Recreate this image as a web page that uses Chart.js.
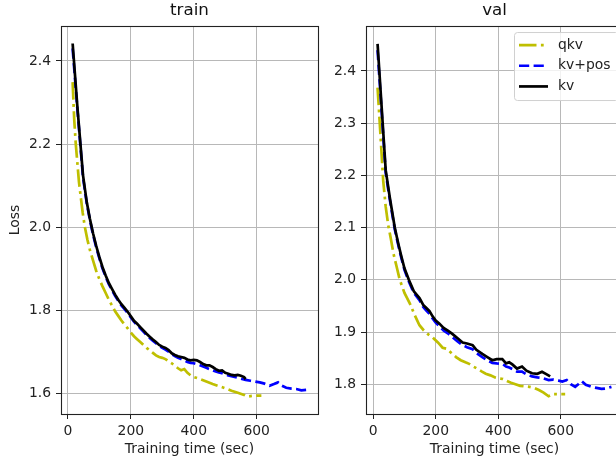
<!DOCTYPE html>
<html><head><meta charset="utf-8">
<script src="https://cdn.jsdelivr.net/npm/chart.js@4"></script>
<style>
html,body{margin:0;padding:0;background:#fff;width:616px;height:459px;overflow:hidden;position:relative}
.box{position:absolute;top:0;width:330px;height:459px}
#l{left:0}#r{left:305px}
</style></head><body>
<div class="box" id="l"><canvas id="c1"></canvas></div>
<div class="box" id="r"><canvas id="c2"></canvas></div>
<script>
const seriesLabels = ['qkv', 'kv+pos', 'kv'];
const panelTitles = ['train', 'val'];
const xTicks = [0, 200, 400, 600];
const trainYTicks = [1.6, 1.8, 2.0, 2.2, 2.4];
const valYTicks = [1.8, 1.9, 2.0, 2.1, 2.2, 2.3, 2.4];

const trainQkvTime = [15,20,25,30,35,40,47,54,62,70,80,90,100,110,120,130,140,150,160,170,180,190,200,210,220,230,240,250,260,270,280,290,300,310,320,330,340,350,360,370,380,390,400,420,440,460,480,500,520,540,560,570,590,615];
const trainQkvLoss = [2.349,2.26,2.20,2.155,2.11,2.078,2.035,2.0,1.97,1.945,1.92,1.895,1.875,1.858,1.842,1.826,1.812,1.798,1.787,1.776,1.766,1.757,1.747,1.738,1.731,1.724,1.717,1.710,1.704,1.698,1.692,1.688,1.686,1.683,1.678,1.673,1.667,1.661,1.656,1.659,1.650,1.644,1.640,1.635,1.629,1.623,1.618,1.613,1.607,1.602,1.597,1.593,1.595,1.595];

const trainKvPosTime = [15,30,48,60,70,80,90,100,110,120,130,140,150,160,170,180,190,200,210,220,230,240,250,260,270,280,290,300,310,320,330,340,350,360,370,380,390,400,410,420,430,440,450,460,470,480,490,500,510,520,530,540,550,565,580,595,610,625,641,655,668,680,694,710,726,742,758];
const trainKvPosLoss = [2.43,2.285,2.12,2.057,2.017,1.982,1.952,1.925,1.901,1.881,1.863,1.849,1.835,1.823,1.812,1.803,1.794,1.783,1.773,1.765,1.757,1.749,1.741,1.734,1.727,1.721,1.715,1.710,1.706,1.701,1.695,1.690,1.686,1.683,1.680,1.676,1.674,1.673,1.671,1.668,1.665,1.662,1.659,1.656,1.653,1.651,1.649,1.646,1.644,1.642,1.640,1.638,1.636,1.633,1.631,1.629,1.627,1.624,1.619,1.623,1.627,1.619,1.614,1.612,1.611,1.608,1.609];

const trainKvTime = [15,30,48,60,70,80,90,100,110,120,130,140,150,160,170,180,190,200,210,220,230,240,250,260,270,280,290,300,310,320,330,340,350,360,370,380,390,400,410,420,430,440,450,460,470,480,490,500,510,520,530,540,550,560,565];
const trainKvLoss = [2.442,2.29,2.125,2.06,2.02,1.985,1.955,1.928,1.904,1.884,1.866,1.852,1.838,1.826,1.815,1.806,1.797,1.786,1.775,1.768,1.760,1.752,1.744,1.737,1.730,1.724,1.717,1.713,1.710,1.705,1.697,1.693,1.690,1.688,1.686,1.682,1.680,1.681,1.680,1.676,1.671,1.668,1.668,1.664,1.659,1.655,1.656,1.650,1.648,1.645,1.644,1.645,1.643,1.640,1.635];

const valQkvTime = [14,18,22,27,32,40,48,56,65,75,85,100,117,133,148,162,177,191,207,222,235,250,265,280,295,307,320,335,348,360,375,390,402,415,428,441,455,470,485,500,515,530,545,561,575,590,614];
const valQkvLoss = [2.368,2.33,2.29,2.24,2.19,2.14,2.105,2.08,2.05,2.025,2.0,1.975,1.955,1.932,1.913,1.903,1.895,1.889,1.880,1.870,1.868,1.860,1.852,1.846,1.842,1.839,1.834,1.829,1.824,1.820,1.817,1.813,1.811,1.810,1.806,1.803,1.800,1.797,1.796,1.795,1.793,1.789,1.784,1.777,1.781,1.781,1.781];

const valKvPosTime = [14,40,53,69,80,90,100,114,130,148,160,170,180,190,200,212,225,240,254,270,286,300,318,330,349,365,381,395,413,425,435,445,460,476,490,508,525,540,561,575,593,605,619,632,646,656,667,680,698,714,730,745,762];
const valKvPosLoss = [2.44,2.205,2.154,2.097,2.067,2.042,2.019,1.997,1.975,1.961,1.948,1.941,1.935,1.926,1.918,1.911,1.903,1.897,1.890,1.882,1.875,1.871,1.867,1.860,1.852,1.846,1.841,1.840,1.839,1.834,1.832,1.829,1.824,1.824,1.819,1.815,1.813,1.812,1.808,1.809,1.807,1.805,1.808,1.800,1.795,1.800,1.806,1.799,1.795,1.793,1.791,1.792,1.795];

const valKvTime = [14,40,53,69,80,90,100,114,130,148,160,170,180,190,200,212,225,240,254,270,286,300,318,330,349,365,381,395,413,425,435,445,460,476,490,508,525,540,555,566];
const valKvLoss = [2.452,2.21,2.158,2.10,2.07,2.045,2.022,2.0,1.978,1.965,1.952,1.946,1.940,1.930,1.922,1.916,1.908,1.902,1.896,1.888,1.880,1.878,1.875,1.866,1.858,1.852,1.846,1.848,1.848,1.840,1.842,1.838,1.830,1.834,1.826,1.821,1.820,1.824,1.819,1.815];

Chart.defaults.font.family = "'DejaVu Sans', sans-serif";
Chart.defaults.font.size = 13.9;
Chart.defaults.color = '#222';

const pts = (xs, ys) => xs.map((x, i) => ({x: x, y: ys[i]}));

function makeDatasets(q, qy, p, py, k, ky) {
  return [
    {label: seriesLabels[0], data: pts(q, qy), borderColor: '#bfbf00', borderWidth: 2.7, borderDash: [17.5, 4.4, 2.8, 4.4], order: 2},
    {label: seriesLabels[1], data: pts(p, py), borderColor: '#0000ff', borderWidth: 2.7, borderDash: [10.2, 4.4], order: 1},
    {label: seriesLabels[2], data: pts(k, ky), borderColor: '#000000', borderWidth: 2.7, borderDash: [], order: 0}
  ];
}

const framePlugin = {
  id: 'frame',
  afterDatasetsDraw(chart) {
    const {ctx, chartArea: a} = chart;
    ctx.save();
    ctx.strokeStyle = '#222';
    ctx.lineWidth = 1.1;
    ctx.setLineDash([]);
    ctx.strokeRect(Math.round(a.left) + 0.5, Math.round(a.top) + 0.5, Math.round(a.right - a.left), Math.round(a.bottom - a.top));
    ctx.restore();
  }
};

const insideLegend = {
  id: 'insideLegend',
  afterDraw(chart) {
    const {ctx, chartArea: a} = chart;
    const right = a.right - 5, left = right - 104, top = a.top + 6, h = 68;
    ctx.save();
    ctx.beginPath();
    ctx.roundRect(left + 0.5, top + 0.5, right - left, h, 3);
    ctx.fillStyle = 'rgba(255,255,255,0.8)';
    ctx.fill();
    ctx.strokeStyle = '#d0d0d0';
    ctx.lineWidth = 1;
    ctx.stroke();
    chart.data.datasets.forEach((ds, i) => {
      const y = top + 13 + i * 20.7;
      ctx.beginPath();
      ctx.setLineDash(ds.borderDash || []);
      ctx.strokeStyle = ds.borderColor;
      ctx.lineWidth = ds.borderWidth;
      ctx.moveTo(left + 5, y);
      ctx.lineTo(left + 34, y);
      ctx.stroke();
      ctx.setLineDash([]);
      ctx.fillStyle = '#222';
      ctx.font = "13.9px 'DejaVu Sans'";
      ctx.textBaseline = 'middle';
      ctx.textAlign = 'left';
      ctx.fillText(ds.label, left + 44, y);
    });
    ctx.restore();
  }
};

function makeChart(canvas, title, datasets, xmin, xmax, ymin, ymax, yTicks, showYTitle, extraPlugins) {
  return new Chart(canvas, {
    type: 'line',
    data: {datasets: datasets},
    options: {
      responsive: true,
      maintainAspectRatio: false,
      animation: false,
      layout: {padding: {left: 0, right: 12, top: 0, bottom: 0}},
      elements: {point: {radius: 0}, line: {tension: 0, fill: false}},
      plugins: {
        legend: {display: false},
        tooltip: {enabled: false},
        title: {display: true, text: title, fullSize: false, color: '#111', font: {size: 16.7, weight: 'normal'}, padding: {top: 1, bottom: 5}}
      },
      scales: {
        x: {
          type: 'linear', min: xmin, max: xmax,
          afterBuildTicks: s => { s.ticks = xTicks.map(v => ({value: v})); },
          ticks: {callback: v => String(v), padding: 4, maxRotation: 0, autoSkip: false, color: '#222'},
          grid: {color: '#b8b8b8', lineWidth: 1, tickLength: 5, tickColor: '#222', tickWidth: 1},
          border: {display: false},
          title: {display: true, text: 'Training time (sec)', color: '#222', font: {size: 13.9}, padding: {top: 0, bottom: 1}},
          afterFit: s => { s.height = 45; }
        },
        y: {
          type: 'linear', min: ymin, max: ymax,
          afterBuildTicks: s => { s.ticks = yTicks.map(v => ({value: v})); },
          ticks: {callback: v => Number(v).toFixed(1), padding: 5, autoSkip: false, color: '#222'},
          grid: {color: '#b8b8b8', lineWidth: 1, tickLength: 5, tickColor: '#222', tickWidth: 1},
          border: {display: false},
          title: {display: showYTitle, text: 'Loss', color: '#222', font: {size: 13.9}, padding: {top: 7, bottom: 0}},
          afterFit: s => { s.width = 61; }
        }
      }
    },
    plugins: [framePlugin].concat(extraPlugins)
  });
}

makeChart(document.getElementById('c1'), panelTitles[0],
  makeDatasets(trainQkvTime, trainQkvLoss, trainKvPosTime, trainKvPosLoss, trainKvTime, trainKvLoss),
  -22, 795, 1.551, 2.484, trainYTicks, true, []);
makeChart(document.getElementById('c2'), panelTitles[1],
  makeDatasets(valQkvTime, valQkvLoss, valKvPosTime, valKvPosLoss, valKvTime, valKvLoss),
  -23, 799, 1.743, 2.486, valYTicks, false, [insideLegend]);
</script>
</body></html>
